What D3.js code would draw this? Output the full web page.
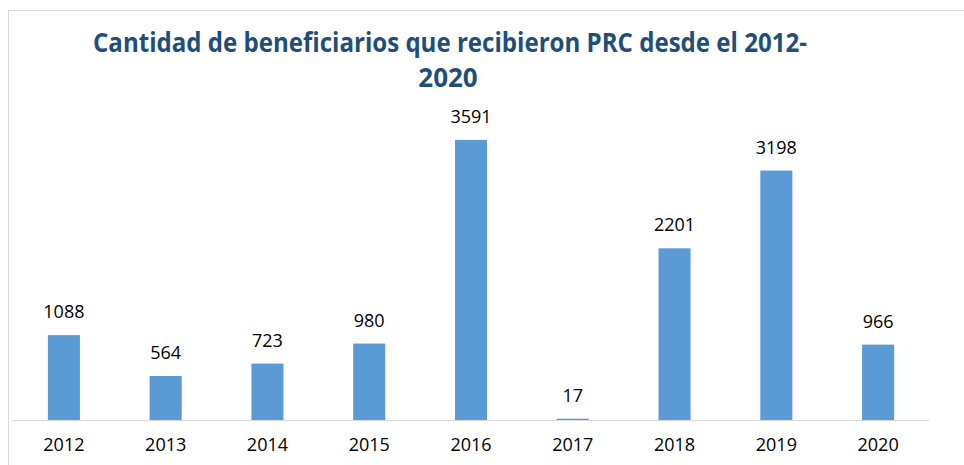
<!DOCTYPE html>
<html>
<head>
<meta charset="utf-8">
<script src="https://cdn.jsdelivr.net/npm/d3@7"></script>
<style>
  html, body { margin: 0; padding: 0; background: #fff; }
  svg { display: block; }
</style>
</head>
<body>
<div id="chart"></div>
<script>
const years = ["2012", "2013", "2014", "2015", "2016", "2017", "2018", "2019", "2020"];
const beneficiarios = [1088, 564, 723, 980, 3591, 17, 2201, 3198, 966];
const titleLines = ["Cantidad de beneficiarios que recibieron PRC desde el 2012-", "2020"];

const width = 964;
const height = 465;

const svg = d3
  .select("#chart")
  .append("svg")
  .attr("width", width)
  .attr("height", height);

// frame
svg
  .append("rect")
  .attr("x", 8.5)
  .attr("y", 10.5)
  .attr("width", 1000)
  .attr("height", 500)
  .attr("fill", "#fff")
  .attr("stroke", "#d9d9d9");

// title
svg
  .append("text")
  .attr("x", 450)
  .attr("y", 52)
  .attr("text-anchor", "middle")
  .attr("textLength", 714)
  .attr("lengthAdjust", "spacingAndGlyphs")
  .style("font-family", "'Open Sans', sans-serif")
  .style("font-weight", "bold")
  .style("font-size", "26px")
  .style("fill", "#1f4e79")
  .text(titleLines[0]);

svg
  .append("text")
  .attr("x", 448)
  .attr("y", 87)
  .attr("text-anchor", "middle")
  .style("font-family", "'Open Sans', sans-serif")
  .style("font-weight", "bold")
  .style("font-size", "26px")
  .style("fill", "#1f4e79")
  .text(titleLines[1]);

// scales
const xScale = d3
  .scaleBand()
  .domain(years)
  .range([13, 929])
  .paddingInner(0.685)
  .paddingOuter(0.3425);

const yScale = d3.scaleLinear().domain([0, 4000]).range([420, 108]);

// bars
svg
  .selectAll(".bar")
  .data(beneficiarios)
  .enter()
  .append("rect")
  .attr("class", "bar")
  .attr("x", (d, i) => xScale(years[i]))
  .attr("y", (d) => yScale(d))
  .attr("width", xScale.bandwidth())
  .attr("height", (d) => yScale(0) - yScale(d))
  .attr("fill", "#5b9bd5");

// value labels
svg
  .selectAll(".value")
  .data(beneficiarios)
  .enter()
  .append("text")
  .attr("class", "value")
  .attr("x", (d, i) => xScale(years[i]) + xScale.bandwidth() / 2)
  .attr("y", (d) => yScale(d) - 17)
  .attr("text-anchor", "middle")
  .style("font-family", "'Open Sans', sans-serif")
  .style("font-size", "18px")
  .style("fill", "#000")
  .text((d) => d);

// x axis
const xAxis = d3.axisBottom(xScale).tickSize(0).tickPadding(18);

const gx = svg
  .append("g")
  .attr("transform", `translate(0, ${yScale(0)})`)
  .call(xAxis);

gx.select(".domain").attr("stroke", "#d9d9d9").attr("d", "M12,0.5H929");
gx.selectAll("text")
  .style("font-family", "'Open Sans', sans-serif")
  .style("font-size", "18px")
  .style("fill", "#000")
  .attr("dy", "0.71em");
</script>
</body>
</html>
